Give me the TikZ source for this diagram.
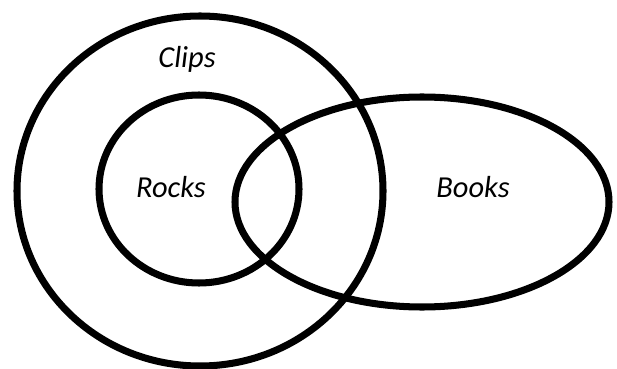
\documentclass[tikz,border=0pt]{standalone}
\usepackage{fontspec}
\setmainfont{Carlito}
\usepackage{tikz}
\usetikzlibrary{positioning}

\begin{document}
\begin{tikzpicture}[
            x=0.03cm, y=-0.03cm,
            conjunto/.style={draw=black, line width=6pt},
            etiqueta/.style={font=\fontsize{26}{30}\selectfont\itshape, inner sep=0pt}
        ]
            \useasboundingbox (0,0) rectangle (617,369);

            % --- Conjuntos ---
            \draw[conjunto] (200,191) ellipse [x radius=183, y radius=175];
            \draw[conjunto] (199,189) ellipse [x radius=100, y radius=94];
            \draw[conjunto] (422,202) ellipse [x radius=187, y radius=105];

            % --- Etiquetas ---
            \node[etiqueta] (clips) at (187,59)  {Clips};
            \node[etiqueta] (rocks) at (171,187) {Rocks};
            \node[etiqueta] (books) at (473,187) {Books};

        \end{tikzpicture}
\end{document}
